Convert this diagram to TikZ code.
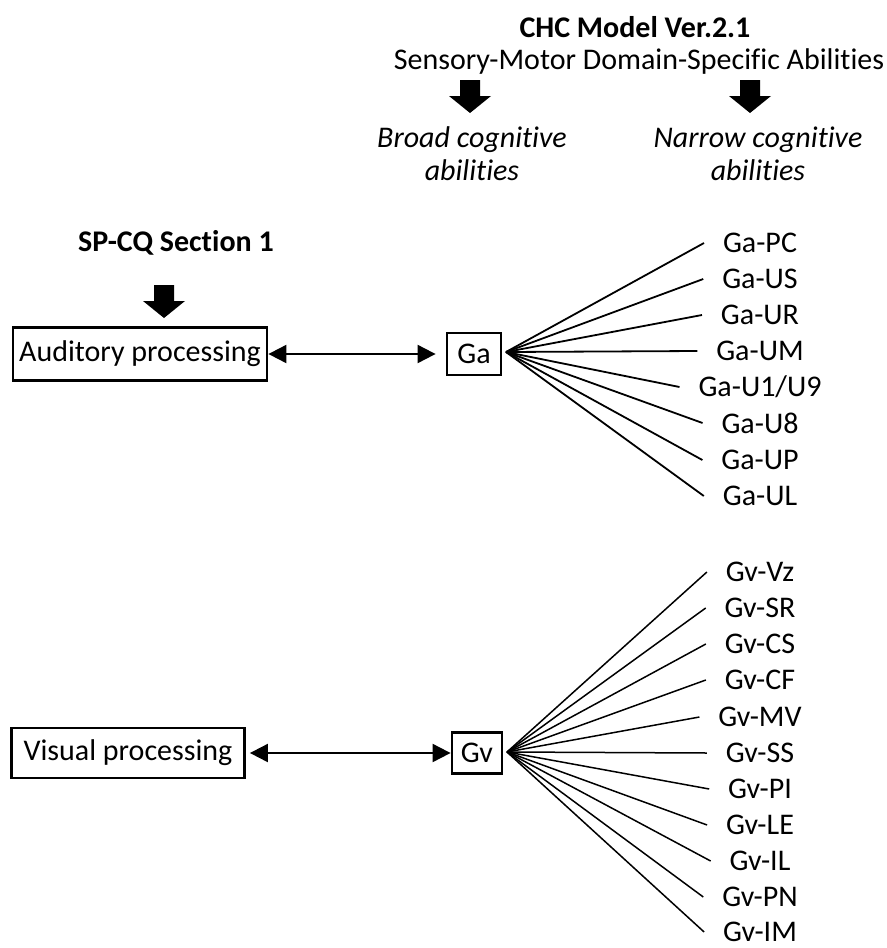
\documentclass[tikz,border=0pt]{standalone}
\usepackage{fontspec}
\setmainfont{Carlito}[Ligatures=NoCommon]
\usetikzlibrary{arrows.meta}
\pgfdeclarelayer{nodelayer}
\pgfdeclarelayer{edgelayer}
\pgfsetlayers{edgelayer,nodelayer,main}
\tikzstyle{plain text}=[inner sep=0pt, font=\fontsize{15}{16.5}\selectfont]
\tikzstyle{heading}=[inner sep=0pt, font=\fontsize{15}{16.5}\selectfont\bfseries]
\tikzstyle{italic text}=[inner sep=0pt, align=center, font=\fontsize{15}{16.5}\selectfont\itshape]
\tikzstyle{box}=[fill=white, draw=black, shape=rectangle, line width=1.4pt, inner sep=0pt, font=\fontsize{15}{16.5}\selectfont]
\tikzstyle{leaf}=[inner sep=0pt, outer xsep=9.5pt, font=\fontsize{15}{16.5}\selectfont]
\tikzstyle{both way}=[draw=black, line width=1pt, {Triangle[length=9pt,width=9pt]}-{Triangle[length=9pt,width=9pt]}]
\tikzstyle{branch}=[draw=black, line width=0.9pt]
\tikzset{pics/down arrow/.style={code={
	\fill [black] (-10,-16) -- (10,-16) -- (10,0) -- (21,0) -- (0,17) -- (-21,0) -- (-10,0) -- cycle;
}}}

\begin{document}
\begin{tikzpicture}[x=0.5pt, y=-0.5pt]
	\useasboundingbox (0,0) rectangle (887,948);
	\begin{pgfonlayer}{nodelayer}
		\node [style=heading] (chc) at (635, 27) {CHC Model Ver.2.1};
		\node [style=plain text] (smd) at (639, 61) {Sensory-Motor Domain-Specific Abilities};
		\pic at (470, 96) {down arrow};
		\pic at (750, 96) {down arrow};
		\node [style=italic text] (broad) at (472, 154) {Broad cognitive\\abilities};
		\node [style=italic text] (narrow) at (758, 154) {Narrow cognitive\\abilities};
		\node [style=heading] (spcq) at (176, 243) {SP-CQ Section 1};
		\pic at (164, 301) {down arrow};
		\node [style=box, minimum width=127pt, minimum height=26.5pt] (aud) at (140, 354) {Auditory processing};
		\node [style=box, minimum width=27pt, minimum height=21pt] (ga) at (474, 354) {Ga};
		\node [style=box, minimum width=116.5pt, minimum height=25pt] (vis) at (128, 753) {Visual processing};
		\node [style=box, minimum width=25pt, minimum height=20.5pt] (gv) at (477, 753) {Gv};
		\coordinate (gafan) at (506, 352);
		\coordinate (gvfan) at (507, 752);
		% auditory branches
		\node [style=leaf] (ga1) at (760, 243) {Ga-PC};
		\node [style=leaf] (ga2) at (760, 279) {Ga-US};
		\node [style=leaf] (ga3) at (760, 315) {Ga-UR};
		\node [style=leaf] (ga4) at (760, 351) {Ga-UM};
		\node [style=leaf] (ga5) at (760, 387) {Ga-U1/U9};
		\node [style=leaf] (ga6) at (760, 423) {Ga-U8};
		\node [style=leaf] (ga7) at (760, 460) {Ga-UP};
		\node [style=leaf] (ga8) at (760, 496) {Ga-UL};
		% visual branches
		\node [style=leaf] (gv1) at (760, 572) {Gv-Vz};
		\node [style=leaf] (gv2) at (760, 608) {Gv-SR};
		\node [style=leaf] (gv3) at (760, 644) {Gv-CS};
		\node [style=leaf] (gv4) at (760, 680) {Gv-CF};
		\node [style=leaf] (gv5) at (760, 717) {Gv-MV};
		\node [style=leaf] (gv6) at (760, 753) {Gv-SS};
		\node [style=leaf] (gv7) at (760, 789) {Gv-PI};
		\node [style=leaf] (gv8) at (760, 825) {Gv-LE};
		\node [style=leaf] (gv9) at (760, 861) {Gv-IL};
		\node [style=leaf] (gv10) at (760, 897) {Gv-PN};
		\node [style=leaf] (gv11) at (760, 932) {Gv-IM};
	\end{pgfonlayer}
	\begin{pgfonlayer}{edgelayer}
		\draw [style=both way, shorten >=5pt] (aud) to (ga);
		\draw [style=both way, shorten <=2pt] (vis) to (gv);
		\draw [style=branch] (gafan) to (ga1.west);
		\draw [style=branch] (gafan) to (ga2.west);
		\draw [style=branch] (gafan) to (ga3.west);
		\draw [style=branch] (gafan) to (ga4.west);
		\draw [style=branch] (gafan) to (ga5.west);
		\draw [style=branch] (gafan) to (ga6.west);
		\draw [style=branch] (gafan) to (ga7.west);
		\draw [style=branch] (gafan) to (ga8.west);
		\draw [style=branch, line width=0.75pt] (gvfan) to (gv1.west);
		\draw [style=branch, line width=0.75pt] (gvfan) to (gv2.west);
		\draw [style=branch, line width=0.75pt] (gvfan) to (gv3.west);
		\draw [style=branch, line width=0.75pt] (gvfan) to (gv4.west);
		\draw [style=branch, line width=0.75pt] (gvfan) to (gv5.west);
		\draw [style=branch, line width=0.75pt] (gvfan) to (gv6.west);
		\draw [style=branch, line width=0.75pt] (gvfan) to (gv7.west);
		\draw [style=branch, line width=0.75pt] (gvfan) to (gv8.west);
		\draw [style=branch, line width=0.75pt] (gvfan) to (gv9.west);
		\draw [style=branch, line width=0.75pt] (gvfan) to (gv10.west);
		\draw [style=branch, line width=0.75pt] (gvfan) to (gv11.west);
	\end{pgfonlayer}
\end{tikzpicture}
\end{document}
